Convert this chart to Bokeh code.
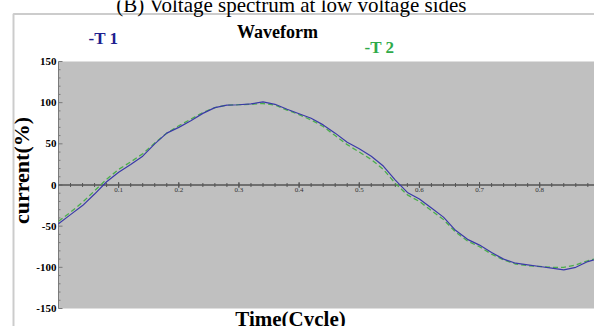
import numpy as np
from bokeh.plotting import figure
from bokeh.models import Range1d, Label, PolyAnnotation
from bokeh.embed import file_html
from bokeh.resources import INLINE
from bokeh.core.properties import value

# ---- data ----
time_cycle = [0.00, 0.02, 0.04, 0.06, 0.08, 0.10, 0.12, 0.14, 0.16, 0.18,
              0.20, 0.22, 0.24, 0.26, 0.28, 0.30, 0.32, 0.34, 0.36, 0.38,
              0.40, 0.42, 0.44, 0.46, 0.48, 0.50, 0.52, 0.54, 0.56, 0.58,
              0.60, 0.62, 0.64, 0.66, 0.68, 0.70, 0.72, 0.74, 0.76, 0.78,
              0.80, 0.82, 0.84, 0.86, 0.88, 0.90]
t1_current = [-47, -36, -25, -11, 4, 15.5, 25, 35, 50, 63,
              70, 78, 87, 94, 97, 97.5, 98.5, 101, 98, 92,
              86.5, 81, 73, 63, 52, 44, 35, 23, 6, -9,
              -17, -28, -39, -55, -66, -73, -82, -90, -95, -97,
              -99, -101, -103, -100, -93, -89]
t2_current = [-44, -33, -21, -7, 7, 19, 28, 38, 51, 63,
              72, 80, 88, 94, 97, 97.5, 98, 99, 97, 91,
              85.5, 79, 71, 60, 49, 40, 31, 19, 2, -12,
              -20, -31, -42, -57, -68, -75, -84, -91, -96, -98,
              -99, -100, -100, -97, -92, -88]
y_ticks = [-150, -100, -50, 0, 50, 100, 150]
y_tick_labels = ["-150", "-100", "-50", "0", "50", "100", "150"]
x_ticks = [0.1, 0.2, 0.3, 0.4, 0.5, 0.6, 0.7, 0.8]
x_tick_labels = ["0.1", "0.2", "0.3", "0.4", "0.5", "0.6", "0.7", "0.8"]
series_names = ["-T 1", "-T 2"]
caption = "(B) Voltage spectrum at low voltage sides"
chart_title = "Waveform"
x_label = "Time(Cycle)"
y_label = "current(%)"

# ---- layout: the frame covers the whole canvas, plot area drawn inside ----
W, H = 594, 326
X0_PX, X_PX_PER_UNIT = 58.0, 601.5          # where time 0 sits, scale
Y0_PX, Y_PX_PER_UNIT = 184.5, 247.0 / 300.0  # where current 0 sits, scale
x_start = -X0_PX / X_PX_PER_UNIT
x_end = (W - X0_PX) / X_PX_PER_UNIT
y_top = Y0_PX / Y_PX_PER_UNIT
y_bottom = -(H - Y0_PX) / Y_PX_PER_UNIT
y_min, y_max = min(y_ticks), max(y_ticks)

SERIF = "Liberation Serif"
BLUE_TXT = "#1f1f8f"
GREEN_TXT = "#2faa4a"
AXIS = "#7a7a7a"

p = figure(width=W, height=H, x_range=Range1d(x_start, x_end),
           y_range=Range1d(y_bottom, y_top), output_backend="svg",
           toolbar_location=None, title=None, x_axis_location=None,
           y_axis_location=None, min_border=0)
p.outline_line_color = None
p.grid.visible = False
p.background_fill_color = "white"
p.border_fill_color = "white"

# grey plot area
p.quad(left=[0], right=[x_end], bottom=[y_min], top=[y_max],
       fill_color="#c0c0c0", line_color=None)

# y axis (at time 0)
p.segment(x0=[0], y0=[y_min], x1=[0], y1=[y_max], line_color=AXIS, line_width=1)
minor_y = [v for v in range(y_min, y_max + 1, 10) if v not in y_ticks]
p.ray(x=[0] * len(minor_y), y=minor_y, length=2, length_units="screen", angle=0,
      line_color=AXIS, line_width=1)
p.ray(x=[0] * len(y_ticks), y=y_ticks, length=4, length_units="screen", angle=0,
      line_color=AXIS, line_width=1)
p.text([0] * len(y_ticks), y_ticks, text=y_tick_labels, text_font=value(SERIF),
       text_font_style="bold", text_font_size="11px", text_color="black",
       text_align="right", text_baseline="middle", x_offset=-2)

# time axis (at current 0)
p.segment(x0=[0], y0=[0], x1=[x_end], y1=[0], line_color="#555555", line_width=1.5)
minor_x = [round(v, 2) for v in np.arange(0.02, x_end, 0.02)]
p.scatter(minor_x, [0] * len(minor_x), marker="dash", angle=np.pi / 2, size=4,
          line_color="#555555", line_width=1)
p.scatter(x_ticks, [0] * len(x_ticks), marker="dash", angle=np.pi / 2, size=6,
          line_color="#555555", line_width=1)
p.text(x_ticks, [0] * len(x_ticks), text=x_tick_labels, text_font=value(SERIF),
       text_font_size="7px", text_color="#333333", text_align="center",
       text_baseline="top", y_offset=3)

# curves
p.line(time_cycle, t2_current, line_color="#4cae4c", line_width=1.3, line_dash="5 3")
p.line(time_cycle, t1_current, line_color="#3a3aa8", line_width=1.2)

# outer frame line (left and top)
p.add_layout(PolyAnnotation(xs=[13, 13, 640, 640], ys=[-30, H - 13.5, H - 13.5, -30],
                            xs_units="screen", ys_units="screen",
                            fill_alpha=0, line_color="#555555", line_width=2))

SHIFT = 7  # labels render a little below their anchor

def lab(txt, x, y_from_top, size, color="black", bold=True, align="left",
        angle=0, baseline="alphabetic"):
    p.add_layout(Label(x=x, y=H - y_from_top, x_units="screen", y_units="screen",
                       text=txt, text_font=SERIF, text_font_size=size,
                       text_font_style="bold" if bold else "normal",
                       text_color=color, text_align=align, angle=angle,
                       text_baseline=baseline))

lab(caption, 291, 11 - SHIFT, "21px", bold=False, align="center")
lab(chart_title, 277, 38 - SHIFT, "18px", align="center")
lab(series_names[0], 88, 45 - SHIFT, "17px", color=BLUE_TXT)
lab(series_names[1], 364, 54 - SHIFT, "17px", color=GREEN_TXT)
lab(y_label, 21, 170, "22px", align="center", angle=np.pi / 2, baseline="middle")
lab(x_label, 290, 325 - SHIFT, "21px", align="center")

open("out.html", "w").write(file_html(p, INLINE))
